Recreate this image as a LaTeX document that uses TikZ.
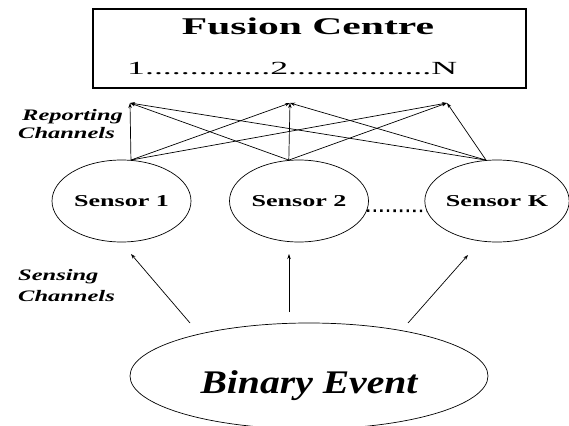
\documentclass[tikz,border=0pt]{standalone}
\usepackage{fontspec}
\setmainfont{Liberation Serif}
\usepackage{graphicx}
\usetikzlibrary{shapes.geometric,arrows.meta}
\newcommand{\wfit}[2]{\resizebox{#1}{\height}{#2}}
\begin{document}
\begin{tikzpicture}[x=1pt,y=-1pt,
  sens/.style={ellipse,draw,line width=0.7pt,minimum width=139pt,minimum height=82pt,inner sep=0pt,font=\fontsize{16.6}{18}\selectfont\bfseries},
  arr/.style={-{Stealth[length=5pt,width=3.5pt]},line width=0.7pt},
  lbl/.style={anchor=base west,inner sep=0pt,font=\fontsize{16}{18}\selectfont\bfseries\itshape}
]
\useasboundingbox (0,0) rectangle (569,425);

% fusion centre
\node[draw,line width=1.4pt,minimum width=433pt,minimum height=79pt,inner sep=0pt] (fc) at (309.5,48.5) {};
\node[anchor=base,inner sep=0pt,font=\fontsize{24}{26}\selectfont\bfseries] (title) at (308,35) {\wfit{252pt}{Fusion Centre}};
\node[anchor=base west,inner sep=0pt,font=\fontsize{18.5}{20}\selectfont] (ports) at (127,75) {\wfit{330pt}{1..............2................N}};

% sensors
\node[sens] (s1) at (121.5,201) {\scalebox{1.57}[1]{Sensor 1}};
\node[sens] (s2) at (299,201) {\scalebox{1.57}[1]{Sensor 2}};
\node[sens] (sk) at (497,201) {\scalebox{1.57}[1]{Sensor K}};
\draw[line width=2.6pt,dash pattern=on 2.4pt off 4.2pt] (s2.-8.5) -- (sk.188.5);

% reporting channels
\coordinate (t1) at (130,103);
\coordinate (t2) at (290,103);
\coordinate (t3) at (447,103);
\foreach \s/\a in {s1/77,s2/104,sk/105}
  \foreach \t in {t1,t2,t3}
    \draw[arr] (\s.\a) -- (\t);

% binary event
\node[ellipse,draw,line width=0.7pt,minimum width=358pt,minimum height=106pt,inner sep=0pt,text height=34pt,text depth=0pt,font=\fontsize{33}{36}\selectfont\bfseries\itshape] (be) at (309,376) {\wfit{217pt}{Binary Event}};

% sensing channels
\coordinate (u1) at (131,254);
\coordinate (u2) at (289,254);
\coordinate (u3) at (468,255);
\coordinate (b1) at (190,323);
\coordinate (b2) at (289,312);
\coordinate (b3) at (408,323);
\draw[arr] (b1) -- (u1);
\draw[arr] (b2) -- (u2);
\draw[arr] (b3) -- (u3);

% labels
\node[lbl] (rep1) at (22,121) {\scalebox{1.53}[1]{Reporting}};
\node[lbl] (rep2) at (18,138) {\scalebox{1.53}[1]{Channels}};
\node[lbl] (sen1) at (18,280) {\scalebox{1.53}[1]{Sensing}};
\node[lbl] (sen2) at (18,301) {\scalebox{1.53}[1]{Channels}};
\end{tikzpicture}
\end{document}
